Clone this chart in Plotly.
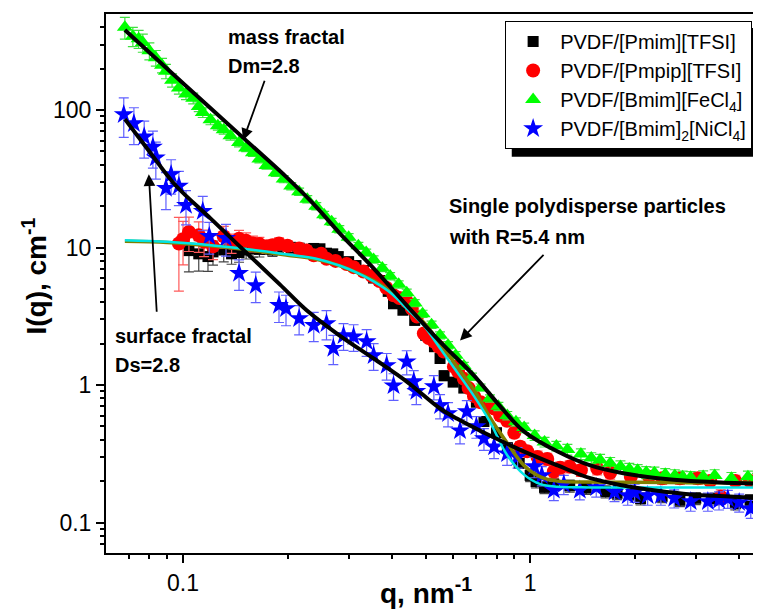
import numpy as np
import plotly.graph_objects as go

FONT = "Liberation Sans, Arial, sans-serif"

# ---- SAXS data: q in nm^-1, I in cm^-1, relative errors ----
# PVDF/[Pmim][TFSI]  (black squares)
Q_PMIM = [0.104, 0.111, 0.118, 0.122, 0.131, 0.138, 0.145, 0.152, 0.159, 0.166,
          0.174, 0.181, 0.189, 0.197, 0.205, 0.216, 0.227, 0.238, 0.248, 0.259,
          0.270, 0.280, 0.300, 0.315, 0.331, 0.354, 0.368, 0.390, 0.404, 0.430,
          0.465, 0.500, 0.530, 0.550, 0.565, 0.600, 0.644, 0.700, 0.736, 0.800,
          0.860, 0.930, 1.00, 1.04, 1.10, 1.17, 1.30, 1.45, 1.65, 1.78,
          2.00, 2.08, 2.40, 2.70, 3.00, 3.40, 3.90, 4.30, 4.60]
I_PMIM = [9.5, 9.0, 8.6, 9.3, 9.6, 9.0, 9.2, 9.6, 9.8, 9.7,
          10.0, 9.6, 10.2, 10.3, 10.0, 9.9, 9.7, 9.85, 9.8, 9.1,
          9.0, 8.6, 7.9, 7.4, 6.8, 6.0, 5.76, 4.8, 3.9, 3.5,
          2.95, 2.3, 1.9, 1.56, 1.17, 1.05, 0.95, 0.75, 0.543, 0.45,
          0.35, 0.27, 0.22, 0.198, 0.18, 0.19, 0.185, 0.178, 0.168, 0.163,
          0.16, 0.149, 0.155, 0.145, 0.15, 0.149, 0.137, 0.145, 0.133]
ERR_PMIM = [0.30, 0.25, 0.22, 0.20, 0.18, 0.16, 0.15, 0.14, 0.13, 0.12,
            0.11, 0.10, 0.10, 0.09, 0.09, 0.08, 0.08, 0.08, 0.07, 0.07,
            0.07, 0.07, 0.06, 0.06, 0.06, 0.06, 0.06, 0.06, 0.06, 0.06,
            0.06, 0.06, 0.06, 0.06, 0.08, 0.06, 0.06, 0.06, 0.07, 0.07,
            0.08, 0.08, 0.10, 0.10, 0.10, 0.10, 0.10, 0.10, 0.10, 0.10,
            0.10, 0.10, 0.10, 0.10, 0.10, 0.10, 0.10, 0.10, 0.10]

# PVDF/[Pmpip][TFSI]  (red circles)
Q_PMPIP = [0.0973, 0.100, 0.104, 0.111, 0.115, 0.122, 0.131, 0.138, 0.145, 0.152,
           0.159, 0.166, 0.174, 0.181, 0.189, 0.200, 0.216, 0.227, 0.238, 0.250,
           0.259, 0.275, 0.296, 0.310, 0.331, 0.350, 0.368, 0.385, 0.404, 0.420,
           0.441, 0.456, 0.472, 0.494, 0.510, 0.528, 0.545, 0.564, 0.603, 0.620,
           0.644, 0.665, 0.689, 0.720, 0.750, 0.787, 0.820, 0.858, 0.900, 0.936,
           0.980, 1.05, 1.12, 1.17, 1.22, 1.30, 1.40, 1.56, 1.70, 1.95,
           2.20, 2.40, 2.70, 3.04, 3.30, 3.54, 3.90, 4.30, 4.62]
I_PMPIP = [10.7, 11.5, 13.0, 12.3, 11.0, 10.2, 12.1, 10.8, 11.6, 11.2,
           10.7, 10.6, 10.2, 10.4, 10.7, 10.3, 9.85, 9.5, 8.8, 9.0,
           8.3, 8.0, 7.6, 7.2, 6.7, 6.2, 5.7, 5.1, 4.5, 4.3,
           4.05, 3.6, 3.15, 2.37, 2.2, 2.07, 1.9, 1.75, 1.36, 1.25,
           1.11, 0.95, 0.83, 0.75, 0.72, 0.675, 0.6, 0.55, 0.45, 0.356,
           0.33, 0.30, 0.29, 0.235, 0.25, 0.255, 0.24, 0.247, 0.23, 0.215,
           0.215, 0.21, 0.21, 0.21, 0.2, 0.154, 0.2, 0.2, 0.21]
ERR_PMPIP = [0.55, 0.35, 0.28, 0.25, 0.22, 0.20, 0.18, 0.16, 0.15, 0.14,
             0.13, 0.12, 0.11, 0.10, 0.10, 0.09, 0.09, 0.08, 0.08, 0.08,
             0.07, 0.07, 0.07, 0.06, 0.06, 0.06, 0.06, 0.06, 0.06, 0.06,
             0.06, 0.06, 0.06, 0.06, 0.06, 0.06, 0.06, 0.06, 0.06, 0.06,
             0.06, 0.06, 0.07, 0.07, 0.07, 0.07, 0.08, 0.08, 0.08, 0.09,
             0.09, 0.10, 0.10, 0.10, 0.10, 0.10, 0.10, 0.10, 0.10, 0.10,
             0.10, 0.10, 0.10, 0.10, 0.10, 0.12, 0.10, 0.10, 0.10]

# PVDF/[Bmim][FeCl4]  (green triangles)
Q_FECL4 = [0.068, 0.0717, 0.0745, 0.0766, 0.080, 0.0835, 0.087, 0.0893, 0.093, 0.0973,
           0.102, 0.107, 0.111, 0.114, 0.120, 0.126, 0.131, 0.137, 0.145, 0.152,
           0.159, 0.166, 0.174, 0.185, 0.195, 0.205, 0.216, 0.228, 0.242, 0.255,
           0.268, 0.282, 0.300, 0.320, 0.337, 0.354, 0.375, 0.395, 0.418, 0.441,
           0.465, 0.490, 0.520, 0.550, 0.580, 0.610, 0.644, 0.680, 0.720, 0.766,
           0.810, 0.859, 0.910, 0.961, 1.03, 1.10, 1.19, 1.28, 1.40, 1.50,
           1.59, 1.70, 1.82, 1.93, 2.04, 2.16, 2.28, 2.45, 2.61, 2.75,
           2.90, 3.15, 3.40, 3.80, 4.24, 4.50, 4.75]
I_FECL4 = [400, 345, 330, 310, 270, 240, 212, 192, 165, 145,
           131, 122, 106, 96, 85, 77, 72, 65, 58, 53,
           49, 44, 39.6, 35, 31.5, 28, 25.5, 22.5, 20, 17.3,
           15.4, 13.6, 11.9, 10.3, 9.2, 8.2, 7.1, 6.2, 5.4, 4.7,
           3.95, 3.3, 2.75, 2.3, 1.95, 1.65, 1.38, 1.15, 0.96, 0.80,
           0.70, 0.60, 0.54, 0.49, 0.43, 0.385, 0.36, 0.34, 0.315, 0.295,
           0.285, 0.27, 0.255, 0.245, 0.24, 0.232, 0.23, 0.224, 0.22, 0.215,
           0.213, 0.216, 0.22, 0.21, 0.215, 0.207, 0.21]
ERR_FECL4 = [0.18, 0.16, 0.15, 0.15, 0.14, 0.13, 0.12, 0.12, 0.11, 0.10,
             0.09, 0.09, 0.08, 0.08, 0.08, 0.07, 0.07, 0.07, 0.07, 0.06,
             0.06, 0.06, 0.06, 0.06, 0.06, 0.06, 0.06, 0.06, 0.06, 0.06,
             0.06, 0.06, 0.06, 0.06, 0.06, 0.06, 0.06, 0.06, 0.06, 0.06,
             0.06, 0.06, 0.06, 0.06, 0.06, 0.06, 0.06, 0.06, 0.06, 0.06,
             0.07, 0.07, 0.07, 0.08, 0.08, 0.08, 0.08, 0.09, 0.09, 0.09,
             0.10, 0.10, 0.10, 0.10, 0.10, 0.10, 0.10, 0.10, 0.10, 0.10,
             0.10, 0.10, 0.10, 0.10, 0.10, 0.10, 0.10]

# PVDF/[Bmim]2[NiCl4]  (blue stars)
Q_NICL4 = [0.0675, 0.0722, 0.0773, 0.0819, 0.0835, 0.0893, 0.0924, 0.0973, 0.102, 0.114,
           0.119, 0.133, 0.145, 0.162, 0.189, 0.198, 0.216, 0.238, 0.259, 0.271,
           0.290, 0.310, 0.338, 0.354, 0.386, 0.404, 0.441, 0.462, 0.470, 0.528,
           0.550, 0.580, 0.628, 0.657, 0.700, 0.736, 0.787, 0.858, 0.920, 1.027,
           1.08, 1.17, 1.25, 1.39, 1.55, 1.75, 1.91, 2.00, 2.18, 2.38,
           2.60, 2.90, 3.25, 3.50, 3.71, 4.00, 4.32, 4.62]
I_NICL4 = [93, 80, 64, 54, 45, 27, 34, 28, 20.3, 18.4,
           12.1, 11.7, 6.5, 5.3, 3.8, 3.6, 3.05, 2.72, 2.8, 1.85,
           2.29, 2.25, 2.07, 1.64, 1.39, 0.99, 1.48, 1.06, 0.9, 0.975,
           0.71, 0.62, 0.466, 0.641, 0.50, 0.408, 0.356, 0.317, 0.30, 0.255,
           0.22, 0.172, 0.19, 0.172, 0.18, 0.167, 0.157, 0.165, 0.157, 0.157,
           0.15, 0.142, 0.142, 0.145, 0.149, 0.14, 0.126, 0.13]
ERR_NICL4 = [0.32, 0.30, 0.30, 0.30, 0.30, 0.30, 0.28, 0.28, 0.28, 0.28,
             0.26, 0.26, 0.25, 0.25, 0.25, 0.25, 0.24, 0.24, 0.24, 0.24,
             0.22, 0.22, 0.22, 0.22, 0.22, 0.22, 0.20, 0.20, 0.20, 0.20,
             0.20, 0.20, 0.20, 0.20, 0.18, 0.18, 0.18, 0.18, 0.17, 0.17,
             0.16, 0.16, 0.16, 0.15, 0.15, 0.15, 0.15, 0.15, 0.15, 0.15,
             0.15, 0.15, 0.15, 0.15, 0.15, 0.15, 0.15, 0.15]

# ---- fitted curves ----
Q_FIT_MASS = [0.068, 0.10, 0.15, 0.20, 0.242, 0.282, 0.354, 0.441, 0.55, 0.689,
              0.82, 0.961, 1.2, 1.49, 1.87, 2.33, 2.9, 3.64, 4.87]
I_FIT_MASS = [382, 157, 62, 32, 19.8, 12.8, 7.06, 3.8, 2.07, 1.17,
              0.70, 0.458, 0.328, 0.26, 0.227, 0.21, 0.20, 0.195, 0.19]

Q_FIT_SURF = [0.068, 0.08, 0.095, 0.12, 0.15, 0.19, 0.227, 0.282, 0.354, 0.441,
              0.55, 0.615, 0.75, 0.961, 1.2, 1.49, 1.87, 2.33, 2.9, 3.64, 4.87]
I_FIT_SURF = [86, 50, 28.5, 16.3, 9.5, 5.4, 3.5, 2.3, 1.56, 1.06,
              0.675, 0.57, 0.44, 0.328, 0.26, 0.21, 0.185, 0.17, 0.16, 0.155, 0.149]

Q_FIT_SPH = [0.068, 0.09, 0.12, 0.16, 0.20, 0.242, 0.282, 0.32, 0.354, 0.40,
             0.441, 0.494, 0.55, 0.615, 0.689, 0.766, 0.858, 0.96, 1.07, 1.2,
             1.49, 2.0, 3.0, 4.87]
I_FIT_SPH_A = [11.3, 11.0, 10.4, 9.6, 8.9, 8.3, 7.4, 6.5, 5.67, 4.6,
               3.6, 2.7, 1.85, 1.25, 0.83, 0.54, 0.31, 0.223, 0.19, 0.182,
               0.18, 0.18, 0.18, 0.18]
I_FIT_SPH_B = [11.1, 10.9, 10.3, 9.5, 8.8, 8.2, 7.4, 6.5, 5.75, 4.7,
               3.75, 2.85, 2.0, 1.37, 0.92, 0.58, 0.38, 0.26, 0.215, 0.2,
               0.197, 0.196, 0.195, 0.195]

X_TICKS = [0.1, 1]
X_MINOR = [0.07, 0.08, 0.09, 0.2, 0.3, 0.4, 0.5, 0.6, 0.7, 0.8, 0.9, 2, 3, 4]
Y_TICKS = [0.1, 1, 10, 100]
Y_MINOR = [0.07, 0.08, 0.09, 0.2, 0.3, 0.4, 0.5, 0.6, 0.7, 0.8, 0.9,
           2, 3, 4, 5, 6, 7, 8, 9, 20, 30, 40, 50, 60, 70, 80, 90, 200, 300, 400]


def lg(v):
    return float(np.log10(v))


def data_trace(q, i, rel, name, color, err_color, symbol, size):
    return go.Scatter(
        x=q, y=i, mode='markers', name=name,
        marker=dict(symbol=symbol, size=size, color=color, line=dict(width=0)),
        error_y=dict(type='data', array=[r * v for r, v in zip(rel, i)],
                     color=err_color, thickness=1.2, width=5),
    )


fig = go.Figure()

fig.add_trace(data_trace(Q_PMIM, I_PMIM, ERR_PMIM, 'PVDF/[Pmim][TFSI]',
                         '#000000', '#444444', 'square', 11))
fig.add_trace(data_trace(Q_PMPIP, I_PMPIP, ERR_PMPIP, 'PVDF/[Pmpip][TFSI]',
                         '#ff0000', '#ff5a5a', 'circle', 14))
fig.add_trace(data_trace(Q_FECL4, I_FECL4, ERR_FECL4, 'PVDF/[Bmim][FeCl<sub>4</sub>]',
                         '#00ff00', '#40e040', 'triangle-up', 14))
fig.add_trace(data_trace(Q_NICL4, I_NICL4, ERR_NICL4, 'PVDF/[Bmim]<sub>2</sub>[NiCl<sub>4</sub>]',
                         '#0000ff', '#6060ff', 'star', 15))

# fit lines
fig.add_trace(go.Scatter(x=Q_FIT_SPH, y=I_FIT_SPH_B, mode='lines', showlegend=False,
                         line=dict(color='#808000', width=3.5, shape='spline')))
fig.add_trace(go.Scatter(x=Q_FIT_SPH, y=I_FIT_SPH_A, mode='lines', showlegend=False,
                         line=dict(color='#00e5e5', width=2.5, shape='spline')))
fig.add_trace(go.Scatter(x=Q_FIT_MASS, y=I_FIT_MASS, mode='lines', showlegend=False,
                         line=dict(color='#000000', width=4, shape='spline')))
fig.add_trace(go.Scatter(x=Q_FIT_SURF, y=I_FIT_SURF, mode='lines', showlegend=False,
                         line=dict(color='#000000', width=4, shape='spline')))

# text labels
labels = [
    (0.133, 340, "mass fractal"),
    (0.133, 210, "Dm=2.8"),
    (0.0628, 2.255, "surface fractal"),
    (0.0628, 1.40, "Ds=2.8"),
    (0.5755, 19.95, "Single polydisperse particles"),
    (0.5755, 11.97, "with R=5.4 nm"),
]
for q, i, txt in labels:
    fig.add_annotation(x=lg(q), y=lg(i), text=f"<b>{txt}</b>", showarrow=False,
                       xanchor='left', yanchor='middle',
                       font=dict(family=FONT, size=20, color='black'))

# arrows: (head q, head I, tail offset px)
arrows = [
    (0.149, 60.4, 22, -61),
    (0.0797, 34.1, 8, 139),
    (0.628, 2.11, 85, -87),
]
for q, i, dx, dy in arrows:
    fig.add_annotation(x=lg(q), y=lg(i), ax=dx, ay=dy, text="", showarrow=True,
                       arrowhead=2, arrowsize=1.3, arrowwidth=1.8, arrowcolor='black')

# axis titles
fig.add_annotation(xref='paper', yref='paper', x=0.483, y=-0.108,
                   text="<b>q, nm<sup>-1</sup></b>", showarrow=False,
                   xanchor='center', yanchor='bottom',
                   font=dict(family=FONT, size=28, color='black'))
fig.add_annotation(xref='paper', yref='paper', x=-0.107, y=0.513,
                   text="<b>I(q), cm<sup>-1</sup></b>", showarrow=False, textangle=-90,
                   xanchor='center', yanchor='middle',
                   font=dict(family=FONT, size=28, color='black'))

# legend shadow
fig.add_shape(type='rect', xref='paper', yref='paper',
              x0=0.612, x1=1.02, y0=0.735, y1=0.974,
              fillcolor='black', line=dict(width=0), layer='above')

axis_common = dict(
    type='log', showgrid=False, zeroline=False, automargin=False,
    showline=True, linecolor='black', linewidth=2,
    ticks='outside', ticklen=8, tickwidth=2, tickcolor='black',
    tickfont=dict(family=FONT, size=23, color='black'),
)

fig.update_layout(
    width=761, height=612,
    margin=dict(l=98, r=0, t=6, b=67),
    plot_bgcolor='white', paper_bgcolor='white',
    font=dict(family=FONT, color='black'),
    xaxis=dict(
        **axis_common, mirror=True,
        range=[lg(0.06), 0.688],
        tickvals=X_TICKS, ticktext=['0.1', '1'],
        minor=dict(tickvals=X_MINOR, ticks='outside', ticklen=4, tickwidth=2, tickcolor='black'),
    ),
    yaxis=dict(
        **axis_common,
        range=[lg(0.06), lg(500)],
        tickvals=Y_TICKS, ticktext=['0.1', '1', '10', '100'],
        minor=dict(tickvals=Y_MINOR, ticks='outside', ticklen=4, tickwidth=2, tickcolor='black'),
    ),
    legend=dict(
        x=0.602, y=0.987, xanchor='left', yanchor='top',
        bgcolor='white', bordercolor='black', borderwidth=1,
        font=dict(family=FONT, size=20, color='black'),
        itemwidth=44,
    ),
    showlegend=True,
)

fig.write_html("out.html")
